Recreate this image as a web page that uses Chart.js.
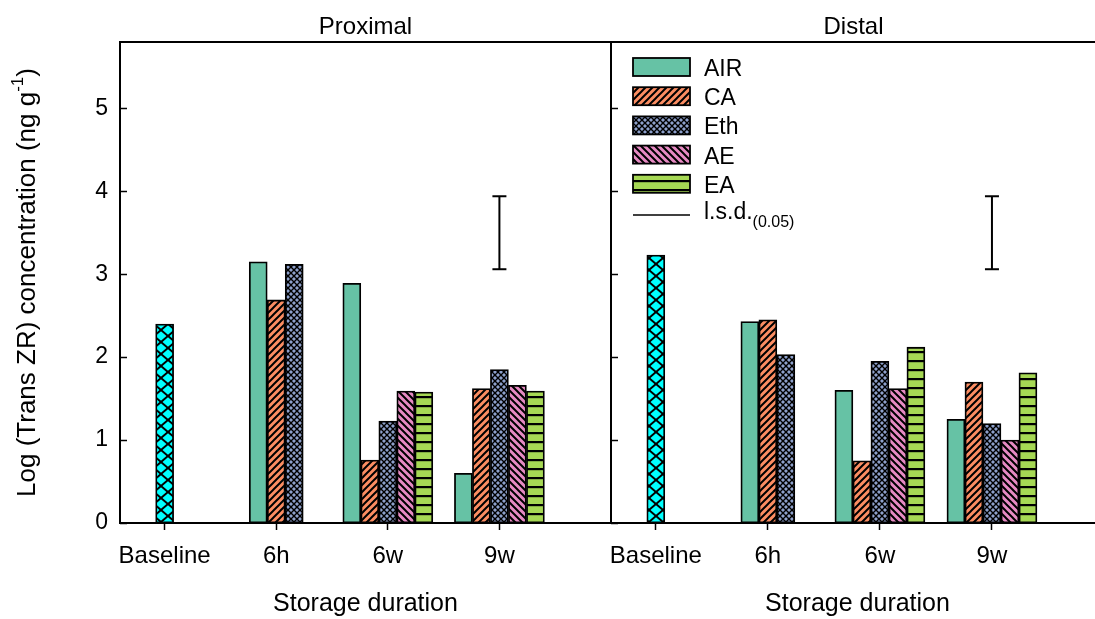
<!DOCTYPE html>
<html>
<head>
<meta charset="utf-8">
<script src="https://cdn.jsdelivr.net/npm/chart.js@4.4.1/dist/chart.umd.min.js"></script>
<style>
  html, body { margin: 0; padding: 0; background: #fff; overflow: hidden; width: 1095px; height: 619px; }
  #wrap { position: relative; width: 1095px; height: 619px; overflow: hidden; }
  canvas { position: absolute; top: 0; }
  #proximal { left: 0; }
  #distal { left: 600px; }
</style>
</head>
<body>
<div id="wrap">
  <canvas id="proximal" width="620" height="619"></canvas>
  <canvas id="distal" width="520" height="619"></canvas>
</div>
<script>
// ---- data ----
const categories = ['Baseline', '6h', '6w', '9w'];
const seriesNames = ['AIR', 'CA', 'Eth', 'AE', 'EA'];
const yTickValues = [0, 1, 2, 3, 4, 5];

// Proximal tissue
const proximalBaseline = [2.40, null, null, null];
const proximalAIR = [null, 3.15, 2.89, 0.60];
const proximalCA  = [null, 2.69, 0.76, 1.62];
const proximalEth = [null, 3.12, 1.23, 1.85];
const proximalAE  = [null, null, 1.59, 1.66];
const proximalEA  = [null, null, 1.58, 1.59];

// Distal tissue
const distalBaseline = [3.23, null, null, null];
const distalAIR = [null, 2.43, 1.60, 1.25];
const distalCA  = [null, 2.45, 0.75, 1.70];
const distalEth = [null, 2.03, 1.95, 1.20];
const distalAE  = [null, null, 1.62, 1.00];
const distalEA  = [null, null, 2.12, 1.81];

// Least significant difference bar (low, high), drawn at one category
const lsdCategory = '9w';
const proximalLsd = [3.06, 3.94];
const distalLsd = [3.06, 3.94];

// ---- styles ----
const FONT = "'Liberation Sans', Arial, Helvetica, sans-serif";
const seriesColors = { AIR: '#66C2A5', CA: '#FC8D62', Eth: '#8DA0CB', AE: '#E78AC3', EA: '#A6D854' };
const baselineColor = '#00FFFF';

Chart.defaults.font.family = FONT;
Chart.defaults.color = '#000';

function makePattern(bg, kind, w, h, lw) {
  const c = document.createElement('canvas');
  c.width = w; c.height = h;
  const g = c.getContext('2d');
  g.fillStyle = bg;
  g.fillRect(0, 0, w, h);
  g.strokeStyle = '#000';
  g.fillStyle = '#000';
  g.lineWidth = lw;
  const fwd = () => { // "/"
    g.beginPath();
    g.moveTo(-w / 4, h / 4); g.lineTo(w / 4, -h / 4);
    g.moveTo(0, h); g.lineTo(w, 0);
    g.moveTo(w * 3 / 4, h * 5 / 4); g.lineTo(w * 5 / 4, h * 3 / 4);
    g.stroke();
  };
  const back = () => { // "\"
    g.beginPath();
    g.moveTo(-w / 4, h * 3 / 4); g.lineTo(w / 4, h * 5 / 4);
    g.moveTo(0, 0); g.lineTo(w, h);
    g.moveTo(w * 3 / 4, -h / 4); g.lineTo(w * 5 / 4, h / 4);
    g.stroke();
  };
  if (kind === 'fwd') fwd();
  if (kind === 'back') back();
  if (kind === 'cross') { fwd(); back(); }
  if (kind === 'horiz') g.fillRect(0, 0, w, lw);
  const ctx = document.createElement('canvas').getContext('2d');
  return ctx.createPattern(c, 'repeat');
}

const fills = {
  Baseline: makePattern(baselineColor, 'cross', 14, 12, 2),
  AIR: seriesColors.AIR,
  CA: makePattern(seriesColors.CA, 'fwd', 7, 7, 2),
  Eth: makePattern(seriesColors.Eth, 'cross', 6, 6, 1.4),
  AE: makePattern(seriesColors.AE, 'back', 7, 7, 2),
  EA: makePattern(seriesColors.EA, 'horiz', 9, 9, 2.2)
};

// category positions on the linear x axis: 1..n
const positions = categories.map((_, i) => i + 1);

function buildDatasets(baseline, series, lsd) {
  const sets = [{ label: 'Baseline', data: baseline, backgroundColor: fills.Baseline }];
  seriesNames.forEach((name, i) => {
    sets.push({ label: name, data: series[i], backgroundColor: fills[name] });
  });
  sets.forEach(s => Object.assign(s, {
    type: 'bar', borderColor: '#000', borderWidth: 1.8, borderSkipped: false,
    barThickness: 18, skipNull: true
  }));
  const lsdX = categories.indexOf(lsdCategory) + 1;
  sets.push({
    type: 'line', label: 'l.s.d.', data: lsd.map(v => ({ x: lsdX, y: v })),
    borderColor: '#000', borderWidth: 2, fill: false, tension: 0,
    pointStyle: 'line', pointRadius: 7, pointBorderWidth: 2,
    pointBorderColor: '#000', pointBackgroundColor: '#000'
  });
  return sets;
}

// Box frame, inward y ticks, panel title
const framePlugin = {
  id: 'panelFrame',
  afterDraw(chart, args, opts) {
    const { ctx, chartArea: a } = chart;
    const ys = chart.scales.y;
    ctx.save();
    ctx.strokeStyle = '#000';
    ctx.lineWidth = 1.5;
    ys.ticks.forEach(t => {
      const y = Math.round(ys.getPixelForValue(t.value)) + 0.5;
      ctx.beginPath(); ctx.moveTo(a.left, y); ctx.lineTo(a.left + 7, y); ctx.stroke();
    });
    ctx.lineWidth = 2;
    ctx.strokeRect(a.left, a.top, a.right - a.left, a.bottom - a.top);
    ctx.fillStyle = '#000';
    ctx.font = '24px ' + FONT;
    ctx.textAlign = 'center';
    ctx.textBaseline = 'alphabetic';
    ctx.fillText(opts.title, (a.left + a.right) / 2 + opts.titleShift, 34);
    ctx.restore();
  }
};

// Rotated y title with superscript unit
const yTitlePlugin = {
  id: 'yTitle',
  afterDraw(chart, args, opts) {
    if (!opts.show) return;
    const { ctx, chartArea: a } = chart;
    const main = '26px ' + FONT, sup = '17px ' + FONT;
    const parts = [['Log (Trans ZR) concentration (ng g', main, 0], ['-1', sup, -10], [')', main, 0]];
    ctx.save();
    ctx.translate(28, (a.top + a.bottom) / 2);
    ctx.rotate(-Math.PI / 2);
    ctx.fillStyle = '#000';
    ctx.textBaseline = 'middle';
    ctx.textAlign = 'left';
    let total = 0;
    parts.forEach(p => { ctx.font = p[1]; total += ctx.measureText(p[0]).width; });
    let x = -total / 2;
    parts.forEach(p => { ctx.font = p[1]; ctx.fillText(p[0], x, p[2]); x += ctx.measureText(p[0]).width; });
    ctx.restore();
  }
};

// Legend drawn inside the plot area
const legendPlugin = {
  id: 'boxLegend',
  afterDraw(chart, args, opts) {
    if (!opts.show) return;
    const { ctx, chartArea: a } = chart;
    const x0 = a.left + 22, y0 = a.top + 16, sw = 57, sh = 18, step = 29.2;
    ctx.save();
    ctx.textAlign = 'left';
    ctx.textBaseline = 'alphabetic';
    seriesNames.forEach((name, i) => {
      const ds = chart.data.datasets.find(d => d.label === name);
      const y = y0 + i * step;
      ctx.fillStyle = ds.backgroundColor;
      ctx.fillRect(x0, y, sw, sh);
      ctx.strokeStyle = '#000';
      ctx.lineWidth = 1.8;
      ctx.strokeRect(x0, y, sw, sh);
      ctx.fillStyle = '#000';
      ctx.font = '23px ' + FONT;
      ctx.fillText(name, x0 + 71, y + sh);
    });
    const ly = y0 + 5 * step + 11;
    ctx.strokeStyle = '#000';
    ctx.lineWidth = 1.5;
    ctx.beginPath(); ctx.moveTo(x0, ly); ctx.lineTo(x0 + sw, ly); ctx.stroke();
    ctx.fillStyle = '#000';
    ctx.font = '23px ' + FONT;
    const lbl = 'l.s.d.';
    ctx.fillText(lbl, x0 + 71, ly + 4);
    const w = ctx.measureText(lbl).width;
    ctx.font = '16px ' + FONT;
    ctx.fillText('(0.05)', x0 + 71 + w, ly + 12);
    ctx.restore();
  }
};

function makeChart(id, datasets, title, withAxisLabels, padRight, titleShift) {
  return new Chart(document.getElementById(id), {
    data: { labels: positions, datasets },
    plugins: [framePlugin, yTitlePlugin, legendPlugin],
    options: {
      responsive: false,
      animation: false,
      events: [],
      layout: { padding: { top: 42, right: padRight, bottom: 0, left: 0 } },
      plugins: {
        legend: { display: false },
        tooltip: { enabled: false },
        panelFrame: { title, titleShift },
        yTitle: { show: withAxisLabels },
        boxLegend: { show: !withAxisLabels }
      },
      scales: {
        x: {
          type: 'linear',
          min: 0.6, max: 5.0,
          offset: false,
          afterBuildTicks: s => { s.ticks = positions.map(v => ({ value: v })); },
          afterFit: s => { s.height = 96; s.paddingLeft = 0; s.paddingRight = 0; },
          ticks: {
            font: { size: 24 }, color: '#000', padding: 12, maxRotation: 0,
            callback: v => categories[v - 1]
          },
          grid: { display: true, drawOnChartArea: false, drawTicks: true, tickLength: 7,
                  tickColor: '#000', tickWidth: 1.5, offset: false },
          border: { display: false },
          title: { display: true, text: 'Storage duration', font: { size: 25 }, color: '#000',
                   padding: { top: 0, bottom: 0 } }
        },
        y: {
          min: 0, max: 5.8,
          afterBuildTicks: s => { s.ticks = yTickValues.map(v => ({ value: v })); },
          afterFit: s => { s.width = withAxisLabels ? 120 : 11; },
          ticks: { display: withAxisLabels, font: { size: 23 }, color: '#000', padding: 12 },
          grid: { display: false, drawTicks: false },
          border: { display: false }
        }
      }
    }
  });
}

makeChart('proximal',
  buildDatasets(proximalBaseline, [proximalAIR, proximalCA, proximalEth, proximalAE, proximalEA], proximalLsd),
  'Proximal', true, 9, 0);
makeChart('distal',
  buildDatasets(distalBaseline, [distalAIR, distalCA, distalEth, distalAE, distalEA], distalLsd),
  'Distal', false, 16, -4);
</script>
</body>
</html>
